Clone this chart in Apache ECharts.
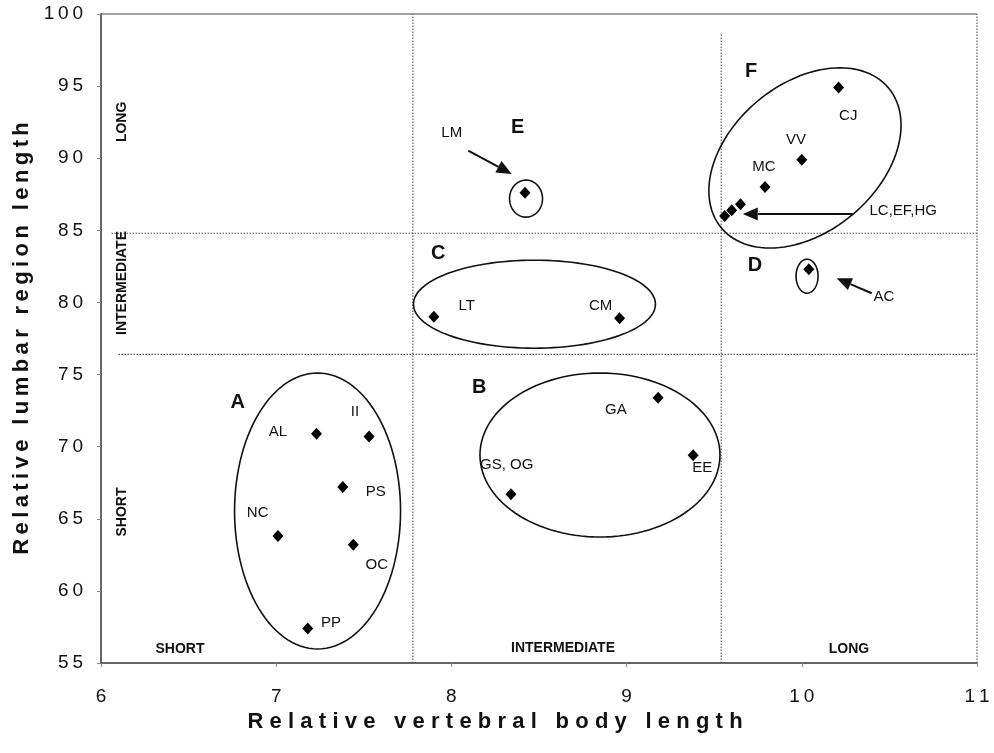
<!DOCTYPE html>
<html><head><meta charset="utf-8">
<script src="https://cdn.jsdelivr.net/npm/echarts@6/dist/echarts.min.js"></script>
<style>html,body{margin:0;padding:0;background:#fff}#c{width:994px;height:753px}</style>
</head><body><div id="c"></div>
<script>
// ---------- data ----------
const species = ['AL','II','PS','NC','OC','PP','GA','GS, OG','EE','LT','CM','LM','CJ','VV','MC','LC','EF','HG','AC'];
const vertebralLength = [7.23, 7.53, 7.38, 7.01, 7.44, 7.18, 9.18, 8.34, 9.38, 7.90, 8.96, 8.42, 10.21, 10.00, 9.79, 9.65, 9.60, 9.56, 10.04];
const lumbarLength   = [70.9, 70.7, 67.2, 63.8, 63.2, 57.4, 73.4, 66.7, 69.4, 79.0, 78.9, 87.6, 94.9, 89.9, 88.0, 86.8, 86.4, 86.0, 82.3];
const xTicks = [6, 7, 8, 9, 10, 11];
const yTicks = [55, 60, 65, 70, 75, 80, 85, 90, 95, 100];
const xCategoryBreaks = [7.78, 9.54];   // short | intermediate | long
const yCategoryBreaks = [76.4, 84.8];
const categoryNames = ['SHORT', 'INTERMEDIATE', 'LONG'];
const groupNames = ['A', 'B', 'C', 'D', 'E', 'F'];

// ---------- annotation layout (data coordinates) ----------
const font = 'Liberation Sans, Arial, Helvetica, sans-serif';
const ellipses = [ // center in data, semi-axes in px, rotation deg
  {cx: 7.236, cy: 65.54, a: 83, b: 138, rot: 0},
  {cx: 8.848, cy: 69.42, a: 120, b: 82, rot: 0},
  {cx: 8.474, cy: 79.88, a: 121, b: 44, rot: 0},
  {cx: 10.03, cy: 81.82, a: 11, b: 17, rot: 0},
  {cx: 8.426, cy: 87.2, a: 16.5, b: 18.5, rot: 0},
  {cx: 10.018, cy: 90.02, a: 109, b: 74, rot: 40}
];
const arrows = [
  {from: [8.096, 90.53], to: [8.344, 88.91]},
  {from: [10.294, 86.14], to: [9.663, 86.14]},
  {from: [10.399, 80.64], to: [10.199, 81.68]}
];
const groupLabelPos = [[6.78, 73.05], [8.159, 74.09], [7.925, 83.41], [9.733, 82.55], [8.378, 92.15], [9.71, 96.01]];
const pointLabels = [
  ['AL', 7.01, 71.02], ['II', 7.45, 72.41], ['PS', 7.568, 66.88], ['NC', 6.894, 65.4],
  ['OC', 7.574, 61.8], ['PP', 7.313, 57.79], ['GA', 8.939, 72.55], ['GS, OG', 8.316, 68.71],
  ['EE', 9.432, 68.54], ['LT', 8.087, 79.76], ['CM', 8.852, 79.76], ['LM', 8.002, 91.73],
  ['CJ', 10.265, 92.95], ['VV', 9.967, 91.27], ['MC', 9.784, 89.38], ['LC,EF,HG', 10.579, 86.37],
  ['AC', 10.469, 80.36]
];
const xCatLabelPos = [[6.451, 55.97], [8.637, 56.0], [10.269, 55.97]];
const yCatLabelPos = [[6.118, 65.47], [6.118, 81.35], [6.118, 92.52]];

const spaced = (s, gap) => String(s).split('').join(gap);

const texts = [];
groupNames.forEach((g, i) => texts.push({t: g, x: groupLabelPos[i][0], y: groupLabelPos[i][1], f: 'bold 20px ' + font, r: 0}));
pointLabels.forEach(p => texts.push({t: p[0], x: p[1], y: p[2], f: '15px ' + font, r: 0}));
categoryNames.forEach((c, i) => texts.push({t: c, x: xCatLabelPos[i][0], y: xCatLabelPos[i][1], f: 'bold 14px ' + font, r: 0}));
categoryNames.forEach((c, i) => texts.push({t: c, x: yCatLabelPos[i][0], y: yCatLabelPos[i][1], f: 'bold 14px ' + font, r: Math.PI / 2}));

const frameLines = [
  {p: [[xTicks[0], 100], [11, 100]], solid: true},
  {p: [[11, 55], [11, 100]], solid: false},
  {p: [[xCategoryBreaks[0], 55], [xCategoryBreaks[0], 100]], solid: false},
  {p: [[xCategoryBreaks[1], 55], [xCategoryBreaks[1], 98.6]], solid: false},
  {p: [[6.06, yCategoryBreaks[1]], [11, yCategoryBreaks[1]]], solid: false},
  {p: [[6.1, yCategoryBreaks[0]], [11, yCategoryBreaks[0]]], solid: false}
];

const chart = echarts.init(document.getElementById('c'), null, {renderer: 'canvas'});
chart.setOption({
  animation: false,
  backgroundColor: '#fff',
  grid: {left: 101, right: 17, top: 14, bottom: 90},
  xAxis: {
    type: 'value', min: xTicks[0], max: xTicks[xTicks.length - 1], interval: 1,
    name: spaced('Relative vertebral body length', '\u2009\u200A'), nameLocation: 'middle', nameGap: 44,
    nameTextStyle: {fontFamily: font, fontWeight: 'bold', fontSize: 22, color: '#111', padding: [0, 88, 0, 0]},
    axisLine: {show: true, lineStyle: {color: '#333', width: 1.5}},
    axisTick: {show: true, length: 4, lineStyle: {color: '#888'}},
    axisLabel: {formatter: v => spaced(v, '\u2009'), fontFamily: font, fontSize: 19, color: '#111', margin: 24},
    splitLine: {show: false}
  },
  yAxis: {
    type: 'value', min: yTicks[0], max: yTicks[yTicks.length - 1], interval: 5,
    name: spaced('Relative lumbar region length', '\u2009'), nameLocation: 'middle', nameGap: 67,
    nameTextStyle: {fontFamily: font, fontWeight: 'bold', fontSize: 22, color: '#111'},
    axisLine: {show: true, lineStyle: {color: '#333', width: 1.5}},
    axisTick: {show: true, length: 4, lineStyle: {color: '#888'}},
    axisLabel: {formatter: v => spaced(v, '\u2009'), fontFamily: font, fontSize: 19, color: '#111', margin: 18},
    splitLine: {show: false}
  },
  series: [
    {
      type: 'custom', silent: true, z: 1,
      data: frameLines.map((l, i) => i),
      renderItem: (params, api) => {
        const l = frameLines[params.dataIndex];
        const a = api.coord(l.p[0]), b = api.coord(l.p[1]);
        return {type: 'line', shape: {x1: a[0], y1: a[1], x2: b[0], y2: b[1]},
          style: {stroke: l.solid ? '#444' : '#555', lineWidth: 1.1, lineDash: l.solid ? null : [1.5, 1.5]}};
      }
    },
    {
      type: 'custom', silent: true, z: 3,
      data: ellipses.map((e, i) => i),
      renderItem: (params, api) => {
        const e = ellipses[params.dataIndex];
        const c = api.coord([e.cx, e.cy]);
        const th = e.rot * Math.PI / 180, ct = Math.cos(th), st = Math.sin(th);
        const pts = [];
        for (let k = 0; k < 120; k++) {
          const t = k / 120 * 2 * Math.PI;
          const u = e.a * Math.cos(t), v = e.b * Math.sin(t);
          pts.push([c[0] + u * ct + v * st, c[1] - u * st + v * ct]);
        }
        return {type: 'polygon', shape: {points: pts}, style: {fill: 'none', stroke: '#111', lineWidth: 1.6}};
      }
    },
    {
      type: 'custom', silent: true, z: 4,
      data: arrows.map((a, i) => i),
      renderItem: (params, api) => {
        const ar = arrows[params.dataIndex];
        const f = api.coord(ar.from), t = api.coord(ar.to);
        const dx = t[0] - f[0], dy = t[1] - f[1], len = Math.hypot(dx, dy);
        const ux = dx / len, uy = dy / len, hl = 15, hw = 6.5;
        const bx = t[0] - ux * hl, by = t[1] - uy * hl;
        return {type: 'group', children: [
          {type: 'line', shape: {x1: f[0], y1: f[1], x2: bx, y2: by}, style: {stroke: '#111', lineWidth: 2}},
          {type: 'polygon', shape: {points: [[t[0], t[1]], [bx - uy * hw, by + ux * hw], [bx + uy * hw, by - ux * hw]]}, style: {fill: '#111'}}
        ]};
      }
    },
    {
      type: 'custom', silent: true, z: 5,
      data: texts.map((t, i) => i),
      renderItem: (params, api) => {
        const t = texts[params.dataIndex];
        const c = api.coord([t.x, t.y]);
        return {type: 'text', x: c[0], y: c[1], rotation: t.r,
          style: {text: t.t, x: 0, y: 0, font: t.f, fill: '#111', align: 'center', verticalAlign: 'middle'}};
      }
    },
    {
      type: 'scatter', z: 6,
      symbol: 'diamond', symbolSize: [11, 12],
      itemStyle: {color: '#000', opacity: 1},
      emphasis: {disabled: true},
      data: species.map((s, i) => ({name: s, value: [vertebralLength[i], lumbarLength[i]]}))
    }
  ]
});
</script></body></html>
